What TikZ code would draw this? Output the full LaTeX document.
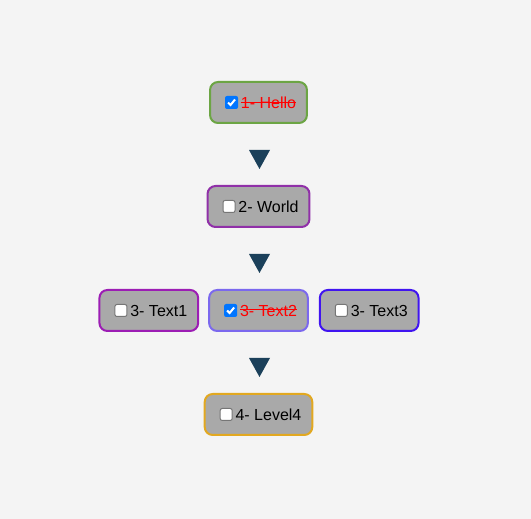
\documentclass[tikz,border=0pt]{standalone}
\usepackage{fontspec}
\setmainfont{Liberation Sans}
\usetikzlibrary{positioning}
\definecolor{pagebg}{HTML}{F4F4F4}
\definecolor{boxfill}{HTML}{A9A9A9}
\definecolor{arrowc}{HTML}{1B405A}
\definecolor{chkblue}{HTML}{0075FF}
\definecolor{chkgray}{HTML}{767676}
\definecolor{cgreen}{HTML}{6CA544}
\definecolor{cpurple}{HTML}{9030A8}
\definecolor{cviolet}{HTML}{9C1DB4}
\definecolor{cslate}{HTML}{7B68EE}
\definecolor{cblue}{HTML}{4014F0}
\definecolor{cgold}{HTML}{E2A820}
\newcommand\striketext[1]{\leavevmode\setbox0\hbox{#1}\rlap{\rule[5.6pt]{\wd0}{1pt}}\box0}
\newcommand\done[1]{\hspace*{20pt}\textcolor{red}{\striketext{#1}}}
\newcommand\todo[1]{\hspace*{20pt}#1}
\tikzset{
	item/.style={draw,rounded corners=8pt,line width=2pt,fill=boxfill,
		minimum height=41pt,inner xsep=10.9pt,inner ysep=0pt,
		font=\fontsize{16}{19}\selectfont},
	chkoff/.style={draw=chkgray,fill=white,line width=1pt,rounded corners=2pt,
		minimum size=12pt,inner sep=0pt},
	chkon/.style={fill=chkblue,rounded corners=2pt,minimum size=13pt,inner sep=0pt},
	tickmark/.style={draw=white,line width=2pt},
	drop/.style={fill=arrowc}
}

\begin{document}
\begin{tikzpicture}[node distance=61pt]

\useasboundingbox[fill=pagebg] (0,0) rectangle (531pt,519pt);

\node[item,draw=cgreen] (b1) at (258.5pt,416.5pt) {\done{1- Hello}};
\node[item,draw=cpurple,below=of b1] (b2) {\todo{2- World}};
\node[item,draw=cslate,below=of b2] (t2) {\done{3- Text2}};
\node[item,draw=cviolet,left=9pt of t2] (t1) {\todo{3- Text1}};
\node[item,draw=cblue,right=10pt of t2] (t3) {\todo{3- Text3}};
\node[item,draw=cgold,below=of t2] (b4) {\todo{4- Level4}};

% checkboxes
\node[chkon] (c1) at ([xshift=22.5pt]b1.west) {};
\node[chkoff] (c2) at ([xshift=22.5pt]b2.west) {};
\node[chkoff] (c3) at ([xshift=22.5pt]t1.west) {};
\node[chkon] (c4) at ([xshift=22.5pt]t2.west) {};
\node[chkoff] (c5) at ([xshift=22.5pt]t3.west) {};
\node[chkoff] (c6) at ([xshift=22.5pt]b4.west) {};
\foreach \c in {c1,c4}
	\draw[tickmark] ([shift={(-3.5pt,0pt)}]\c.center) -- ([shift={(-1pt,-2.5pt)}]\c.center) -- ([shift={(3.5pt,3pt)}]\c.center);

% arrows between levels
\coordinate[below=26pt of b1.south] (a1);
\coordinate[below=26pt of b2.south] (a2);
\coordinate[below=26pt of t2.south] (a3);
\foreach \a in {a1,a2,a3}
	\fill[drop] ([xshift=-9.5pt]\a) -- ([xshift=11.5pt]\a) -- ([xshift=1pt,yshift=-19pt]\a) -- cycle;

\end{tikzpicture}
\end{document}
